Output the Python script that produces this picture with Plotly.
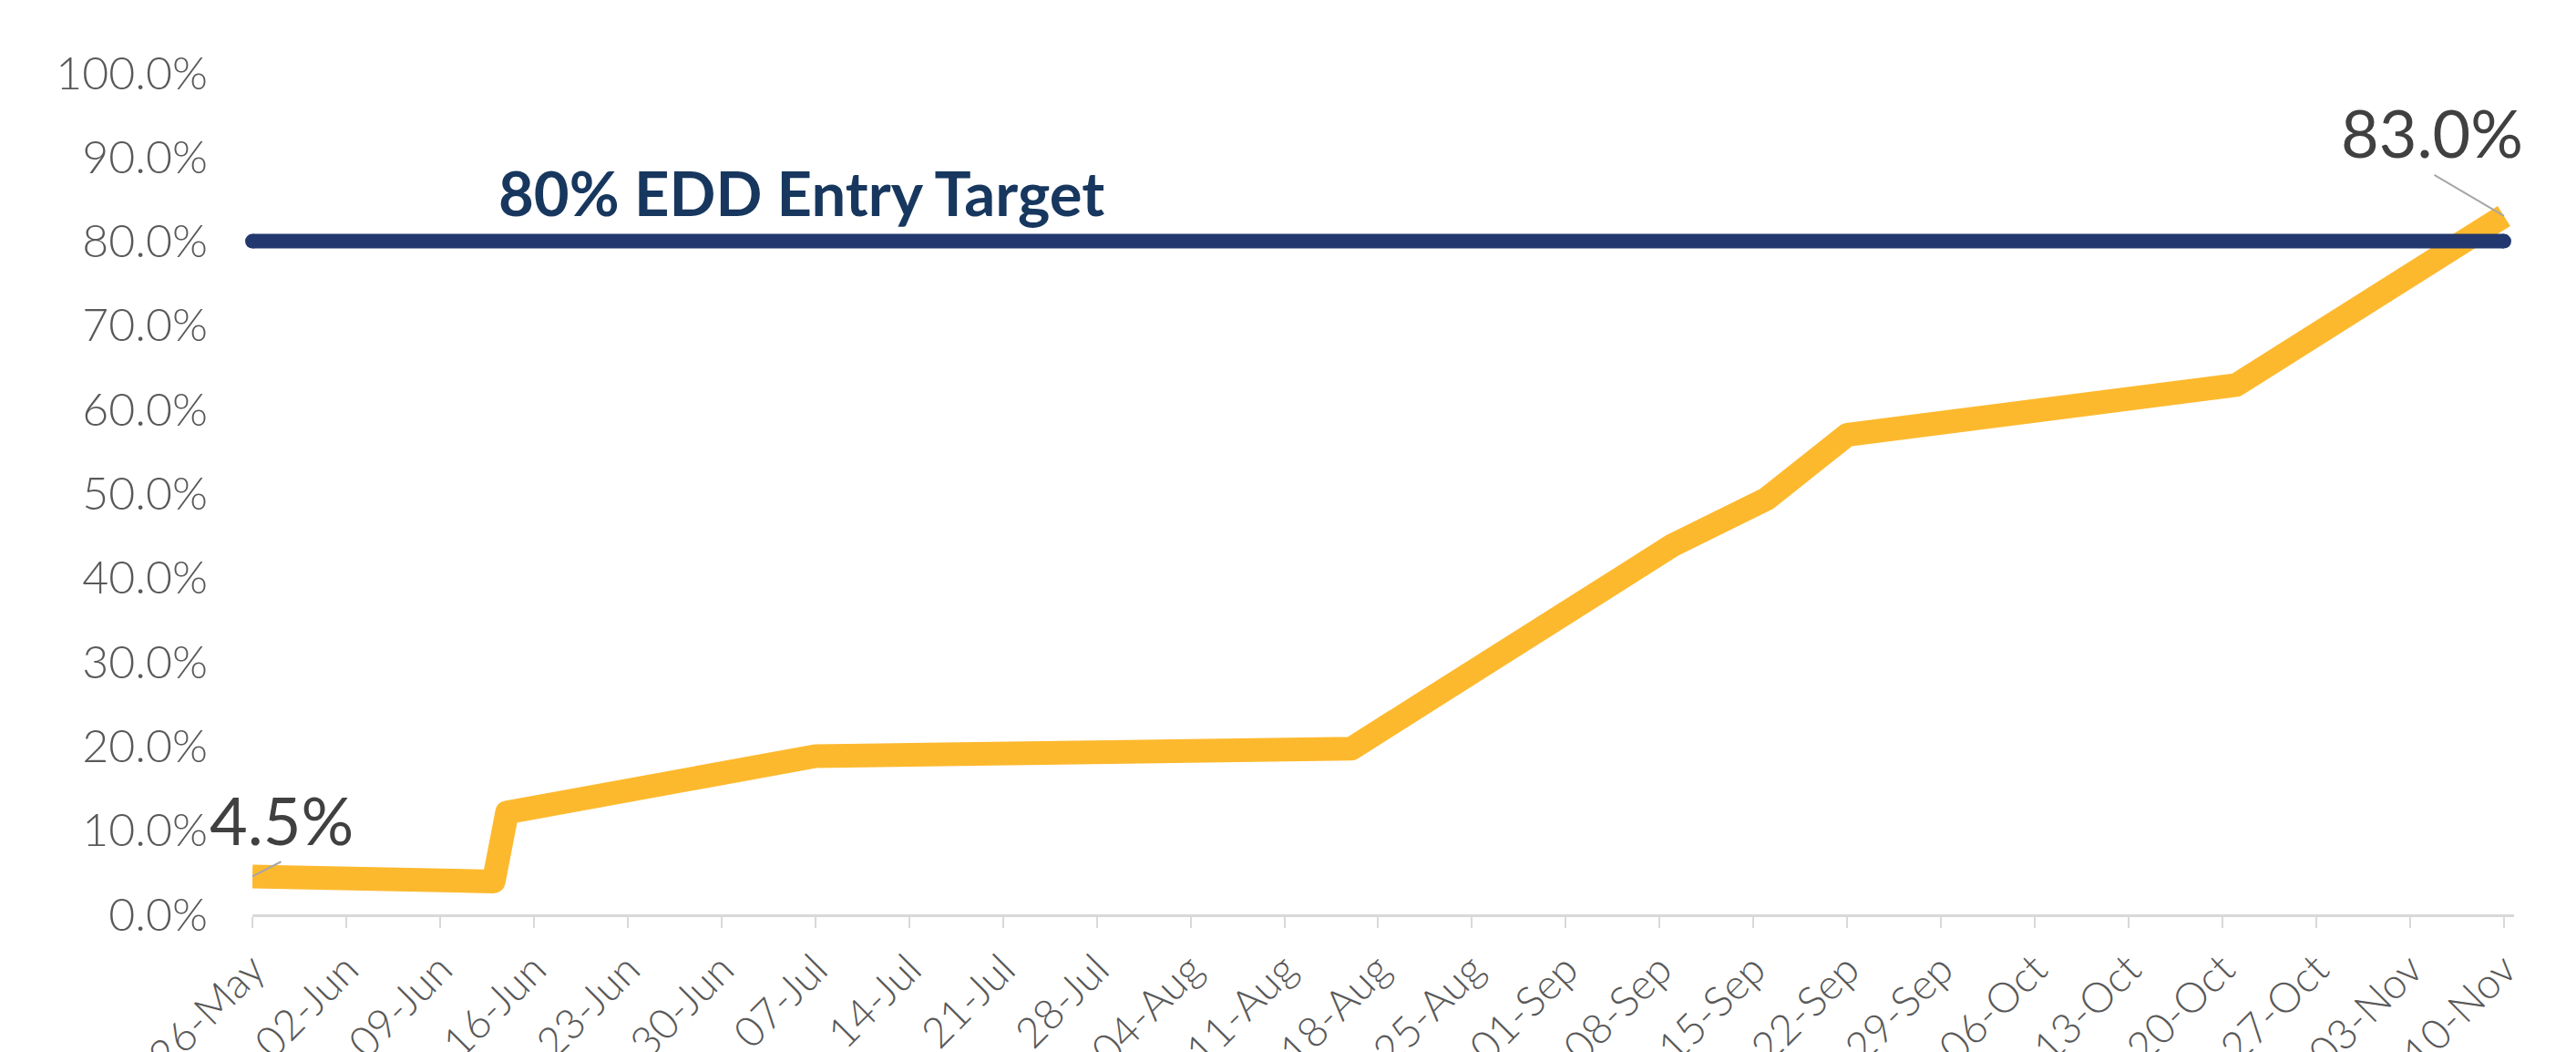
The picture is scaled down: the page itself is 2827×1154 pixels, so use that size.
import plotly.graph_objects as go

# ---- data ----
dates = ["2025-05-26", "2025-06-13", "2025-06-14", "2025-07-07", "2025-08-16",
         "2025-09-09", "2025-09-16", "2025-09-22", "2025-10-21", "2025-11-10"]
values = [0.045, 0.039, 0.121, 0.188, 0.197, 0.439, 0.494, 0.570, 0.629, 0.830]
target_value = 0.80
target_label = "80% EDD Entry Target"
x_range = ["2025-05-26", "2025-11-10 18:00"]
y_ticks = [0.0, 0.1, 0.2, 0.3, 0.4, 0.5, 0.6, 0.7, 0.8, 0.9, 1.0]

YELLOW = "#FDB92E"
NAVY = "#22386F"
NAVY_TEXT = "#17375E"
TICK_GREY = "#595959"
LABEL_GREY = "#404040"

fig = go.Figure()

fig.add_trace(go.Scatter(
    x=dates, y=values, mode="lines",
    line=dict(color=YELLOW, width=26),
    hoverinfo="skip", showlegend=False,
))

fig.add_trace(go.Scatter(
    x=[dates[0], dates[-1]], y=[target_value, target_value], mode="lines+markers",
    line=dict(color=NAVY, width=16),
    marker=dict(color=NAVY, size=16, symbol="circle"),
    cliponaxis=False,
    hoverinfo="skip", showlegend=False,
))

# target label
fig.add_annotation(
    x=0.108, xref="paper", y=0.858, yref="y",
    text=f"<b>{target_label}</b>", showarrow=False,
    xanchor="left", yanchor="middle",
    font=dict(family="Lato, Open Sans, sans-serif", size=67, color=NAVY_TEXT),
)

# first / last value labels with leader lines
for xv, yv, ax, ay, xs, ys in [
    (dates[0], values[0], 33, -17, 32, 62),
    (dates[-1], values[-1], -78, -46, -79, 92),
]:
    fig.add_annotation(
        x=xv, y=yv, text=" ", showarrow=True, arrowhead=0,
        arrowwidth=2, arrowcolor="#A6A6A6", ax=ax, ay=ay,
        font=dict(size=1),
    )
    fig.add_annotation(
        x=xv, y=yv, text=f"{yv*100:.1f}%", showarrow=False,
        xshift=xs, yshift=ys, xanchor="center", yanchor="middle",
        font=dict(family="Lato, sans-serif", size=72, color=LABEL_GREY),
    )

fig.update_layout(
    width=2827, height=1154,
    paper_bgcolor="white", plot_bgcolor="white",
    margin=dict(l=269, r=76, t=72, b=159, autoexpand=False),
    showlegend=False,
)

fig.update_xaxes(
    type="date", range=x_range,
    tick0="2025-05-26", dtick=7 * 24 * 3600 * 1000,
    tickformat="%d-%b", tickangle=-45,
    showgrid=False, zeroline=False,
    showline=True, linecolor="#D9D9D9", linewidth=3,
    ticks="outside", ticklen=12, tickwidth=2, tickcolor="#D9D9D9",
    tickfont=dict(family="Lato, sans-serif", size=46, color=TICK_GREY, weight=300),
    automargin=False,
)

fig.update_yaxes(
    range=[0, 1.0], tickvals=y_ticks, tickformat=".1%",
    showgrid=False, zeroline=False, showline=False,
    ticks="", ticklabelstandoff=48,
    tickfont=dict(family="Lato, sans-serif", size=50, color=TICK_GREY, weight=300),
    automargin=False,
)

post = """
var s = document.createElement('style');
s.innerHTML = '.js-line{stroke-linejoin:round !important;}';
document.head.appendChild(s);
"""

fig.write_html("out.html", post_script=post)
